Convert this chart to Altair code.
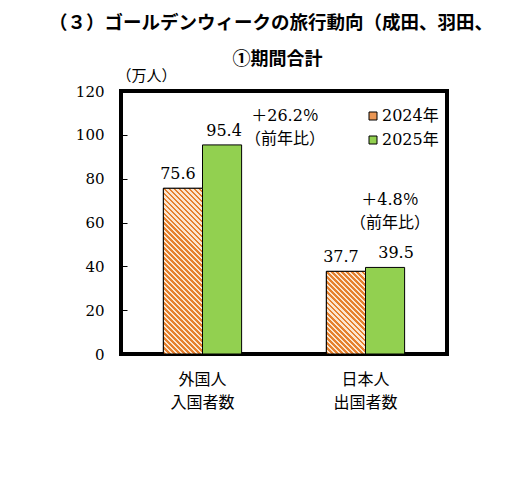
import altair as alt
import pandas as pd

# ---- data ----
categories = ["外国人\n入国者数", "日本人\n出国者数"]
years = ["2024年", "2025年"]
values_2024 = [75.6, 37.7]
values_2025 = [95.4, 39.5]
change_labels = ["＋26.2％", "＋4.8％"]
change_note = "（前年比）"
y_ticks = [0, 20, 40, 60, 80, 100, 120]

heading = "（３）ゴールデンウィークの旅行動向（成田、羽田、"
subtitle = "①期間合計"
unit_label = "（万人）"

# ---- styles ----
ORANGE = "#E5812F"
LIGHT = "#FCE6D0"
ORANGE_LEGEND = "#EA9654"
GREEN = "#92D050"
SERIF = "DejaVu Serif"
SERIF_MIX = "DejaVu Serif, Noto Sans CJK JP"
SANS = "Noto Sans CJK JP"
W, H = 326, 263
Y_MAX = 120
BAR_W = W / 2 * 0.48 / 2
PERIOD = 5.0

rows = []
for c, v24, v25 in zip(categories, values_2024, values_2025):
    rows.append({"category": c, "year": years[0], "value": v24})
    rows.append({"category": c, "year": years[1], "value": v25})
df = pd.DataFrame(rows)

ann = pd.DataFrame({
    "category": categories,
    "year": [years[1]] * 2,
    "value": values_2025,
    "label": [[lab, change_note] for lab in change_labels],
})

x_scale = alt.Scale(domain=categories, paddingInner=0.52, paddingOuter=0.26)
xo_scale = alt.Scale(domain=years, paddingInner=0, paddingOuter=0)
y_scale = alt.Scale(domain=[0, Y_MAX], nice=False)


def hatch(value):
    w = BAR_W
    h = value / Y_MAX * H
    k = (w + h) / (w * w + h * h)
    n = max(1, round((w + h) / PERIOD))
    stops = []
    for i in range(n):
        a = i / n
        b = (i + 0.55) / n
        c = (i + 1) / n
        stops += [
            {"offset": a, "color": ORANGE},
            {"offset": b, "color": ORANGE},
            {"offset": b, "color": LIGHT},
            {"offset": c, "color": LIGHT},
        ]
    return {"gradient": "linear", "stops": stops,
            "x1": 0, "y1": 1, "x2": k * w, "y2": 1 - k * h}


base = alt.Chart(df)
X_PLAIN = alt.X("category:N", scale=x_scale, sort=categories, axis=None)
XO = alt.XOffset("year:N", scale=xo_scale, sort=years)
Y_PLAIN = alt.Y("value:Q", scale=y_scale, axis=None)

bars = base.mark_bar(stroke="black", strokeWidth=1).encode(
    x=alt.X("category:N", scale=x_scale, sort=categories,
            axis=alt.Axis(orient="bottom", title=None, ticks=False, domain=False,
                          labelAngle=0, labelExpr="split(datum.label, '\\n')",
                          labelFont=SANS, labelFontSize=16, labelColor="black",
                          labelLineHeight=23, labelPadding=17)),
    xOffset=XO,
    y=alt.Y("value:Q", scale=y_scale,
            axis=alt.Axis(orient="left", values=y_ticks, ticks=False, domain=False,
                          grid=False, labelFont=SERIF, labelFontSize=15,
                          labelColor="black", labelPadding=17,
                          title=unit_label, titleAngle=0, titleX=25, titleY=-16,
                          titleAlign="center", titleBaseline="middle",
                          titleFont=SANS, titleFontSize=15, titleFontWeight="normal",
                          titleColor="black")),
    color=alt.Color("year:N", sort=years,
                    scale=alt.Scale(domain=years, range=[ORANGE_LEGEND, GREEN]),
                    legend=alt.Legend(title=None, orient="none", legendX=244, legendY=17,
                                      symbolType="square", symbolSize=64,
                                      symbolStrokeColor="black", symbolStrokeWidth=1,
                                      symbolOpacity=1, labelFont=SERIF_MIX, labelFontSize=16,
                                      labelColor="black", labelOffset=1, rowPadding=8)),
)

hatch_layers = []
for c, v in zip(categories, values_2024):
    hatch_layers.append(
        base.transform_filter(
            (alt.datum.category == c) & (alt.datum.year == years[0])
        ).mark_bar(fill=hatch(v), stroke="black", strokeWidth=1).encode(
            x=X_PLAIN, xOffset=XO, y=Y_PLAIN,
        )
    )

# value labels; the reference nudges them sideways a little
label_nudges = {(categories[0], years[0]): -5, (categories[1], years[0]): -5,
                (categories[0], years[1]): 2, (categories[1], years[1]): 11}
value_layers = []
for (c, yr), dx in label_nudges.items():
    value_layers.append(
        base.transform_filter(
            (alt.datum.category == c) & (alt.datum.year == yr)
        ).mark_text(dx=dx, dy=-14, baseline="middle", align="center",
                    font=SERIF, fontSize=16, color="black").encode(
            x=X_PLAIN, xOffset=XO, y=Y_PLAIN,
            text=alt.Text("value:Q", format=".1f"),
        )
    )

# axis-only carrier layer: subtitle (top axis title) and inward y ticks
axis_layer = base.mark_text(opacity=0).encode(
    x=alt.X("category:N", scale=x_scale, sort=categories,
            axis=alt.Axis(orient="top", labels=False, ticks=False, domain=False,
                          title=subtitle, titleX=156, titleY=-32, titleAlign="center",
                          titleBaseline="middle", titleFont=SANS, titleFontSize=18,
                          titleFontWeight="bold", titleColor="black")),
    xOffset=XO,
    y=alt.Y("value:Q", scale=y_scale,
            axis=alt.Axis(orient="right", offset=-W, values=y_ticks, labels=False,
                          ticks=True, tickSize=6, tickWidth=1, tickColor="black",
                          domain=False, grid=False, title=None)),
    text=alt.Text("value:Q", format=".1f"),
)

ann_offsets = [(63, -29), (5, -67)]
ann_layers = []
for c, (dx, dy) in zip(categories, ann_offsets):
    ann_layers.append(
        alt.Chart(ann).transform_filter(alt.datum.category == c).mark_text(
            dx=dx, dy=dy, baseline="middle", align="center", lineHeight=23,
            font=SERIF_MIX, fontSize=16, color="black").encode(
            x=X_PLAIN, xOffset=XO, y=Y_PLAIN,
            text="label",
        )
    )

chart = alt.layer(bars, *hatch_layers, axis_layer, *value_layers, *ann_layers).resolve_axis(
    x="independent", y="independent"
).properties(
    width=W, height=H,
    autosize=alt.AutoSizeParams(type="none"),
    padding={"left": 113, "top": 83, "right": 70, "bottom": 60},
    title=alt.Title(text=heading, anchor="start", frame="group", dx=-72,
                    offset=18, font=SANS, fontSize=18.5, fontWeight="bold",
                    color="black"),
).configure_view(stroke="black", strokeWidth=4).configure_axis(grid=False)

chart.save("out.html", embed_options={"renderer": "svg", "actions": False})
